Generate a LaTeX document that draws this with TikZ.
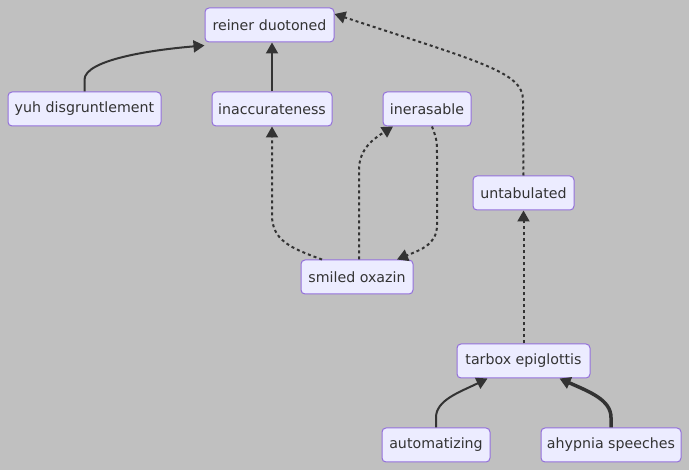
\documentclass[tikz,border=0pt]{standalone}
\usepackage{fontspec}
\setmainfont{DejaVu Sans}
\usetikzlibrary{arrows.meta}
\definecolor{bg}{HTML}{C0C0C0}
\definecolor{nfill}{HTML}{ECECFF}
\definecolor{nborder}{HTML}{9370DB}
\definecolor{ntext}{HTML}{333333}
\definecolor{edge}{HTML}{333333}
\begin{document}
\begin{tikzpicture}[x=1pt,y=-1pt,
  box/.style={draw=nborder, fill=nfill, line width=1pt, rounded corners=4pt,
    text=ntext, font=\fontsize{14.2}{16}\selectfont, minimum height=34pt, inner sep=0pt},
  tip/.style={-{Triangle[length=11pt,width=12pt]}},
  link/.style={draw=edge, line width=2pt, tip},
  thicklink/.style={draw=edge, line width=3.5pt, tip},
  dotlink/.style={draw=edge, line width=2pt, dash pattern=on 3pt off 3pt, tip}]
\fill[bg] (0,0) rectangle (689,470);
\useasboundingbox (0,0) rectangle (689,470);
\node[box, minimum width=129pt] (rd) at (269.5,25) {reiner duotoned};
\node[box, minimum width=153pt] (yd) at (84.5,109) {yuh disgruntlement};
\node[box, minimum width=120pt] (ia) at (272,109) {inaccurateness};
\node[box, minimum width=88pt] (ie) at (427,109) {inerasable};
\node[box, minimum width=101pt] (ut) at (523.5,193) {untabulated};
\node[box, minimum width=112pt] (so) at (357,277) {smiled oxazin};
\node[box, minimum width=133pt] (te) at (523.5,361) {tarbox epiglottis};
\node[box, minimum width=108pt] (au) at (436,445) {automatizing};
\node[box, minimum width=140pt] (ah) at (611,445) {ahypnia speeches};

\draw[link] (yd.north) -- ++(0,-12) .. controls (85,60) and (150,50) .. ([yshift=-3pt]rd.south west);
\draw[link] (ia.north) -- (rd.south -| ia.north);
\draw[dotlink] (ut.north) -- (523,100) .. controls (523,72) and (480,62) .. ([yshift=11pt]rd.east);
\draw[dotlink] ([xshift=-35pt]so.north) .. controls (290,248) and (272,240) .. (272,215) -- (ia.south);
\draw[dotlink] ([xshift=2pt]so.north) -- (359,170) .. controls (359,148) and (375,138) .. ([xshift=-34pt]ie.south);
\draw[dotlink] ([xshift=5pt]ie.south) .. controls (437,140) .. (437,160) -- (437,225) .. controls (437,245) and (420,250) .. ([xshift=40pt]so.north);
\draw[dotlink] (te.north) -- (ut.south);
\draw[link] (au.north) -- ++(0,-10) .. controls (436,400) and (460,392) .. ([xshift=-36pt]te.south);
\draw[thicklink] (ah.north) -- ++(0,-10) .. controls (611,400) and (590,392) .. ([xshift=36pt]te.south);
\end{tikzpicture}
\end{document}
